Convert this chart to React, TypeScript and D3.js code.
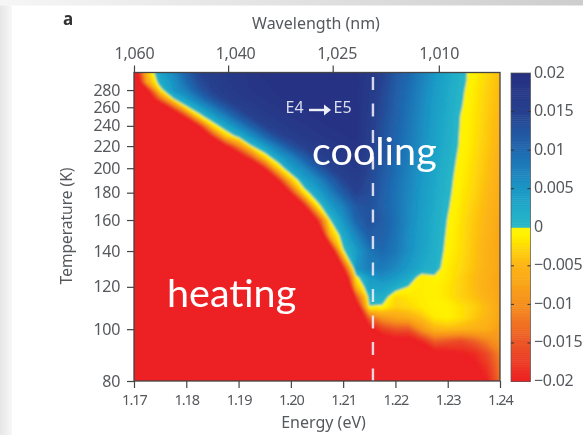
import React, { useEffect, useRef } from "react";
import * as d3 from "d3";

const width = 583;
const height = 435;
const plot = { left: 134, right: 500, top: 72.5, bottom: 381 };
const bar = { left: 511, right: 530.5 };

const energyTicks = [1.17, 1.18, 1.19, 1.2, 1.21, 1.22, 1.23, 1.24];
const tempTicks = [80, 100, 120, 140, 160, 180, 200, 220, 240, 260, 280];
const wavelengthLabels = ["1,060", "1,040", "1,025", "1,010"];
const wavelengthTickEnergy = [1.17, 1.188, 1.208, 1.2283];
const barTicks = [20, 15, 10, 5, 0, -5, -10, -15, -20];
const barLabels = ["0.02", "0.015", "0.01", "0.005", "0", "\u22120.005", "\u22120.01", "\u22120.015", "\u22120.02"];
const transitionEnergy = 1.2157;

// map grid, values in units of 0.001; R is "well below the red end of the scale"
const R = -60;
const gridEnergies = d3.range(29).map((i) => 1.17 + i * 0.0025);
const gridTemps = [302, 290, 280, 270, 260, 250, 240, 230, 220, 210, 200, 190, 180, 170, 160, 150, 140, 130, 125, 120, 115, 110, 105, 100, 95, 90, 85, 80];
const gridValues = [
  [-26.6, -4.2, 3.6, 6.6, 11, 14.7, 16, 17, 17.7, 18.4, 19, 19, 19, 19, 19, 19, 19, 19, 17.5, 15, 12, 10, 7.5, 4.9, 2.9, 1, -1.1, -2.6, -4.2],
  [-32, -7, 2.1, 5.3, 9.6, 13.6, 15.5, 16.8, 17.6, 18.2, 18.7, 19, 19, 19, 19, 19, 19, 19, 17.2, 14.7, 11.8, 9.8, 7.2, 4.7, 2.8, 0.9, -1.2, -2.8, -4.4],
  [-39, -21, -1.4, 5, 7.8, 12, 15, 16.3, 17.3, 18, 18.5, 18.9, 19, 19, 19, 19, 19, 19, 17, 14.3, 11.6, 9.4, 6.9, 4.5, 2.6, 0.6, -1.4, -3, -4.5],
  [-39, -26, -13, 0, 4.4, 8.6, 12.7, 15.2, 16.5, 17.4, 18, 18.6, 19, 19, 19, 19, 19, 19, 16.8, 14, 11.4, 9.2, 6.7, 4.3, 2.5, 0.4, -1.5, -3.1, -4.6],
  [-54, -41, -28, -15, -0.7, 3.9, 7.9, 12, 15, 16.3, 17.3, 18, 18.5, 18.9, 19, 19, 19, 19, 16.5, 13.8, 11.2, 9, 6.5, 4.1, 2.4, 0.2, -1.6, -3.2, -4.8],
  [R, -56, -43, -30, -17, -1.6, 3.5, 7.4, 11.7, 15, 16.2, 17.2, 18, 18.5, 18.9, 19, 19, 19, 16.3, 13.5, 11, 8.8, 6.3, 4, 2.2, -0.1, -1.7, -3.3, -4.9],
  [R, R, -58, -45, -32, -19, -2.4, 3, 6.8, 11, 14.8, 16, 17.2, 17.8, 18.4, 18.8, 19, 19, 16, 13.2, 10.8, 8.6, 6.1, 3.9, 2.1, -0.2, -1.8, -3.4, -5],
  [R, R, -59, -49, -38, -28, -17.6, -3.4, 1.8, 5.8, 10.2, 14, 15.8, 17, 17.7, 18.3, 18.7, 19, 15.8, 13, 10.6, 8.4, 6, 3.8, 2, -0.3, -1.9, -3.5, -5.1],
  [R, R, R, R, -53, -42, -32, -21, -10.7, -0.1, 4.2, 8.5, 12.7, 15.2, 16.5, 17.4, 18, 18.6, 15.5, 12.8, 10.4, 8.2, 5.8, 3.6, 1.8, -0.4, -2, -3.6, -5.3],
  [R, R, R, R, R, -57, -46, -36, -25, -14.7, -2.4, 3.5, 7, 11.3, 14.8, 16, 17.2, 17.8, 15, 12.5, 10, 7.8, 5.4, 3.3, 1.5, -0.7, -2.2, -3.8, -5.5],
  [R, R, R, R, R, R, R, -58, -45, -32, -19, -3.4, 3.8, 6.6, 11, 14.8, 16, 17, 14.5, 12, 9.6, 7.4, 5, 3, 1.2, -1, -2.4, -4, -5.8],
  [R, R, R, R, R, R, R, R, -59, -46, -33, -20, -4, 3.5, 6.3, 10.6, 14.5, 16, 14, 11.6, 9.3, 7, 4.7, 2.8, 0.8, -1.1, -2.6, -4.2, -6],
  [R, R, R, R, R, R, R, R, R, R, -48, -33, -19, -2, 3.2, 7.3, 11.6, 15, 13.5, 11.2, 9, 6.8, 4.5, 2.6, 0.6, -1.4, -2.8, -4.5, -6.2],
  [R, R, R, R, R, R, R, R, R, R, R, -55, -38, -21, -1.6, 4, 7.6, 12, 13, 11, 9, 6.5, 4.3, 2.3, 0.3, -1.7, -3.2, -4.8, -6.5],
  [R, R, R, R, R, R, R, R, R, R, R, R, R, -40, -19.5, 0, 5, 10.5, 13, 11.5, 9.2, 6.5, 4, 2.1, -0.1, -2, -3.5, -5, -7],
  [R, R, R, R, R, R, R, R, R, R, R, R, R, -58, -36, -5.6, 2.5, 7, 11.5, 11, 8.8, 6, 3.8, 1.9, -0.4, -2.1, -3.7, -5.2, -7],
  [R, R, R, R, R, R, R, R, R, R, R, R, R, R, -54, -28, -0.4, 4.2, 8.5, 10, 8.5, 5.8, 3.5, 1.8, -0.8, -2.2, -3.8, -5.5, -7],
  [R, R, R, R, R, R, R, R, R, R, R, R, R, R, R, -42, -20, 5, 8, 8, 6.5, 4.5, 2.5, 1.3, -1.5, -2.5, -4, -5.5, -7],
  [R, R, R, R, R, R, R, R, R, R, R, R, R, R, R, R, -30, -1, 4.5, 6, 4.5, 2.5, -1.5, -0.4, -1.5, -3, -4.3, -5.8, -7.2],
  [R, R, R, R, R, R, R, R, R, R, R, R, R, R, R, R, -40, -5, 3.5, 3.5, 2, -0.1, -1.3, -1, -1.8, -3, -4.3, -5.8, -7.2],
  [R, R, R, R, R, R, R, R, R, R, R, R, R, R, R, R, R, -16, 1.5, 2, -2.5, -1.8, -1.3, -1, -1.8, -3, -4, -5.5, -7],
  [R, R, R, R, R, R, R, R, R, R, R, R, R, R, R, R, R, -26, -0.2, -0.6, -3, -2.5, -1.5, -1, -1, -2, -3, -4.5, -7],
  [R, R, R, R, R, R, R, R, R, R, R, R, R, R, R, R, R, -30, -14, -9, -7, -6, -4, -1.5, -1, -2, -3.5, -5, -7],
  [R, R, R, R, R, R, R, R, R, R, R, R, R, R, R, R, R, -30, -22, -17, -15, -15, -9, -5, -4.5, -5, -5.5, -6, -8],
  [R, R, R, R, R, R, R, R, R, R, R, R, R, R, R, R, R, -30, -26, -23, -22, -22, -19, -14, -15, -16, -14, -11, -9],
  [R, R, R, R, R, R, R, R, R, R, R, R, R, R, R, R, R, -30, -28, -26, -25, -25, -24, -22, -21, -20, -19, -16, -11],
  [R, R, R, R, R, R, R, R, R, R, R, R, R, R, R, R, R, -30, -30, -28, -27, -26, -26, -25, -24, -22, -21, -18, -12],
  [R, R, R, R, R, R, R, R, R, R, R, R, R, R, R, R, R, -30, -30, -30, -30, -28, -28, -28, -27, -25, -23, -20, -13],
];

const colorStops = [-20, -15, -10, -4.5, -1, -0.001, 0, 2.5, 5, 10, 15, 20];
const colorValues = ["#ed2024", "#ec5527", "#f68f1e", "#fdb913", "#fff200", "#fff200", "#29b8c8", "#20aac8", "#1a97c6", "#1f69b0", "#28418f", "#262f80"];

const FONT = "'Noto Sans', sans-serif";
const INK = "#55585c";

export default function App() {
  const svgRef = useRef<SVGSVGElement>(null);

  useEffect(() => {
    const svg = d3.select(svgRef.current);
    svg.selectAll("*").remove();

    const defs = svg.append("defs");
    const topFade = defs.append("linearGradient").attr("id", "topFade");
    topFade.append("stop").attr("offset", 0).attr("stop-color", "#f6f6f6");
    topFade.append("stop").attr("offset", 1).attr("stop-color", "#cdcdcd");
    const leftFade = defs.append("linearGradient").attr("id", "leftFade");
    leftFade.append("stop").attr("offset", 0).attr("stop-color", "#e6e6e6");
    leftFade.append("stop").attr("offset", 1).attr("stop-color", "#f7f7f7");
    defs.append("clipPath").attr("id", "plotClip").append("rect")
      .attr("x", plot.left).attr("y", plot.top)
      .attr("width", plot.right - plot.left).attr("height", plot.bottom - plot.top);
    defs.append("filter").attr("id", "soft").attr("x", "-5%").attr("y", "-5%").attr("width", "110%").attr("height", "110%")
      .append("feGaussianBlur").attr("stdDeviation", 1.3);
    defs.append("filter").attr("id", "softText").attr("x", "-5%").attr("y", "-5%").attr("width", "110%").attr("height", "110%")
      .append("feGaussianBlur").attr("stdDeviation", 0.4);

    svg.append("rect").attr("width", width).attr("height", height).attr("fill", "#fff");
    svg.append("rect").attr("width", width).attr("height", 5.5).attr("fill", "url(#topFade)");
    svg.append("rect").attr("y", 5.5).attr("width", 12).attr("height", height).attr("fill", "url(#leftFade)");

    const x = d3.scaleLinear().domain([1.17, 1.24]).range([plot.left, plot.right]);
    const y = d3.scaleLog().domain([80, 302]).range([plot.bottom, plot.top]);
    const barY = d3.scaleLinear().domain([-20, 20]).range([381.5, 73]);
    const color = d3.scaleLinear<string>().domain(colorStops).range(colorValues).clamp(true);

    // heat map: filled bands from the grid, painted low to high
    const n = gridEnergies.length;
    const m = gridTemps.length;
    const gridX = d3.scaleLinear().domain(gridEnergies.map((_, i) => i + 0.5)).range(gridEnergies.map((e) => x(e)));
    const gridY = d3.scaleLinear().domain(gridTemps.map((_, i) => i + 0.5)).range(gridTemps.map((t) => y(t)));
    const path = d3.geoPath(
      d3.geoTransform({
        point(px, py) {
          this.stream.point(gridX(px), gridY(py));
        },
      }),
    );
    const bandStep = 0.25;
    const thresholds = d3.range(-20, 20, bandStep);
    const bands = d3.contours().size([n, m]).thresholds(thresholds)(gridValues.flat());

    const map = svg.append("g").attr("clip-path", "url(#plotClip)");
    map.append("rect")
      .attr("x", plot.left).attr("y", plot.top)
      .attr("width", plot.right - plot.left).attr("height", plot.bottom - plot.top)
      .attr("fill", color(-20));
    map.append("g").attr("filter", "url(#soft)")
      .selectAll("path").data(bands).join("path")
      .attr("d", (d) => path(d))
      .attr("fill", (d) => color(d.value + bandStep / 2));

    const chart = svg.append("g").attr("filter", "url(#softText)");

    chart.append("line")
      .attr("x1", x(transitionEnergy)).attr("x2", x(transitionEnergy))
      .attr("y1", 77).attr("y2", plot.bottom)
      .attr("stroke", "#ebe9f4").attr("stroke-opacity", 0.9).attr("stroke-width", 2.4).attr("stroke-dasharray", "13 13.5");

    chart.append("rect")
      .attr("x", plot.left).attr("y", plot.top)
      .attr("width", plot.right - plot.left).attr("height", plot.bottom - plot.top)
      .attr("fill", "none").attr("stroke", "#444").attr("stroke-width", 1.3);

    const styleAxis = (g, size: number, spacing: number) => {
      g.select(".domain").remove();
      g.selectAll("line").attr("stroke", "#444").attr("stroke-width", 1.2);
      g.selectAll("text").attr("fill", INK).attr("font-family", FONT).attr("font-size", size).attr("letter-spacing", spacing);
    };

    chart.append("g")
      .attr("transform", `translate(0,${plot.bottom})`)
      .call(d3.axisBottom(x).tickValues(energyTicks).tickFormat(d3.format(".2f")).tickSize(7).tickPadding(7))
      .call(styleAxis, 14.5, -1);

    const labelNudge = [0, 7, 4, 0];
    chart.append("g")
      .attr("transform", `translate(0,${plot.top})`)
      .call(
        d3.axisTop(x).tickValues(wavelengthTickEnergy)
          .tickFormat((_, i) => wavelengthLabels[i]).tickSize(7).tickPadding(7),
      )
      .call(styleAxis, 16, -0.2)
      .selectAll("text").attr("dx", (_, i) => labelNudge[i]);

    chart.append("g")
      .attr("transform", `translate(${plot.left},0)`)
      .call(d3.axisLeft(y).tickValues(tempTicks).tickFormat(d3.format("d")).tickSize(7).tickPadding(7))
      .call(styleAxis, 16, -0.3);

    // colour bar
    const barGroup = chart.append("g");
    barGroup.selectAll("rect").data(d3.range(-20, 20, bandStep)).join("rect")
      .attr("x", bar.left).attr("width", bar.right - bar.left)
      .attr("y", (d) => barY(d + bandStep))
      .attr("height", barY(0) - barY(bandStep) + 0.5)
      .attr("fill", (d) => color(d + bandStep / 2));
    barGroup.append("rect")
      .attr("x", bar.left).attr("y", barY(20)).attr("width", bar.right - bar.left).attr("height", barY(-20) - barY(20))
      .attr("fill", "none").attr("stroke", "#555").attr("stroke-opacity", 0.7);
    barTicks.forEach((t, i) => {
      if (t !== 20 && t !== -20 && t !== 0) {
        barGroup.append("line").attr("x1", bar.left).attr("x2", bar.left + 3).attr("y1", barY(t)).attr("y2", barY(t)).attr("stroke", "#333");
        barGroup.append("line").attr("x1", bar.right - 3).attr("x2", bar.right).attr("y1", barY(t)).attr("y2", barY(t)).attr("stroke", "#333");
      }
      barGroup.append("text")
        .attr("x", 534).attr("y", barY(t) + 4.5)
        .attr("font-family", FONT).attr("font-size", 16).attr("fill", INK).attr("letter-spacing", -0.3)
        .text(barLabels[i]);
    });

    // titles
    const label = (text: string, tx: number, ty: number, size: number) =>
      chart.append("text").attr("x", tx).attr("y", ty).attr("text-anchor", "middle")
        .attr("font-family", FONT).attr("font-size", size).attr("fill", INK).text(text);
    label("Wavelength (nm)", 316, 29, 16);
    label("Energy (eV)", 323.5, 428, 16);
    label("Temperature (K)", 0, 0, 15.5).attr("transform", "translate(72,226) rotate(-90)");
    chart.append("text").attr("x", 63).attr("y", 25)
      .attr("font-family", FONT).attr("font-size", 17).attr("font-weight", 700).attr("fill", "#333").text("a");

    // E4 -> E5 note
    const note = chart.append("g").attr("fill", "#dcdff0").attr("font-family", FONT).attr("font-size", 16);
    note.append("text").attr("x", 285.5).attr("y", 112.5).text("E4");
    note.append("text").attr("x", 333.5).attr("y", 112.5).text("E5");
    note.append("line").attr("x1", 309).attr("x2", 326).attr("y1", 110).attr("y2", 110).attr("stroke", "#eef0f8").attr("stroke-width", 2.4);
    note.append("path").attr("d", d3.line()([[324, 104.5], [331, 110], [324, 115.5]])).attr("fill", "#eef0f8");

    // slide annotations on top, crisp
    const callout = (text: string, tx: number, ty: number) =>
      svg.append("text").attr("x", tx).attr("y", ty)
        .attr("font-family", "Lato, sans-serif").attr("font-size", 39.5).attr("fill", "#fff").text(text);
    callout("cooling", 312, 165);
    callout("heating", 167, 307);
  }, []);

  return (
    <svg
      ref={svgRef}
      width={width}
      height={height}
      style={{ position: "fixed", left: 0, top: 0, display: "block" }}
    />
  );
}
